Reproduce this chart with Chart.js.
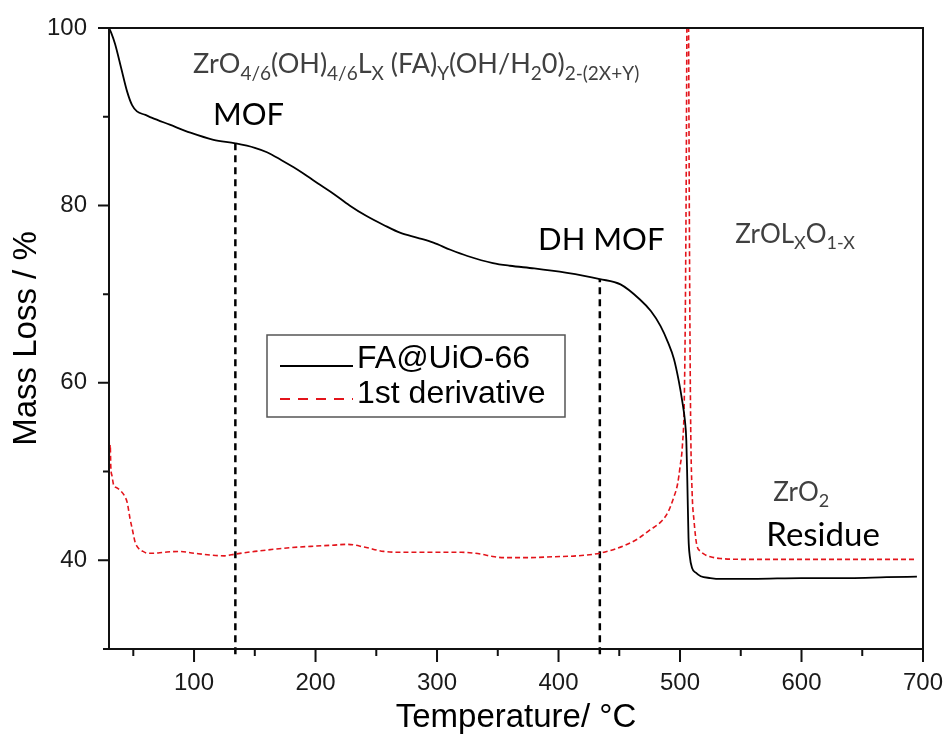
<!DOCTYPE html>
<html>
<head>
<meta charset="utf-8">
<script src="https://cdn.jsdelivr.net/npm/chart.js@4.4.0/dist/chart.umd.min.js"></script>
<style>
html, body { margin: 0; padding: 0; background: #fff; }
#wrap { width: 947px; height: 751px; position: relative; }
</style>
</head>
<body>
<div id="wrap"><canvas id="tga" width="947" height="751"></canvas></div>
<script>
// TGA of FA@UiO-66 : mass (%) vs temperature (C)
var tgaTemp = [30, 32, 35, 40, 45, 49, 53, 60, 65, 80, 97, 116, 134, 150, 160, 172, 182, 190, 204, 215, 228, 242, 256, 270, 284, 297, 311, 325, 346, 360, 380, 407, 420, 434, 451, 467, 476, 484, 490, 495, 499, 502, 504, 505.2, 506, 507, 508, 510, 513, 517, 525, 533, 560, 600, 640, 670, 695];
var tgaMass = [100, 99.4, 98.2, 95.5, 92.8, 91.3, 90.6, 90.2, 89.9, 89.1, 88.2, 87.4, 87.0, 86.5, 86.0, 85.1, 84.3, 83.6, 82.3, 81.3, 80.0, 78.8, 77.8, 76.9, 76.35, 75.8, 75.0, 74.3, 73.5, 73.2, 72.9, 72.4, 72.1, 71.7, 71.1, 69.4, 68.1, 66.4, 64.6, 62.7, 60.2, 57.8, 55.8, 53.5, 49.0, 42.5, 40.5, 39.1, 38.6, 38.2, 38.0, 37.9, 37.9, 38.0, 38.0, 38.1, 38.15];

// 1st derivative, plotted on the same axis
var dtgTemp = [30, 30.5, 31, 31.5, 32.5, 34, 36, 39, 43, 45, 47.3, 49.5, 51.4, 54, 58, 62, 66.5, 75, 88, 100, 113, 125, 134, 150, 170, 187, 200, 214, 226, 240, 256, 275, 297, 320, 336, 345, 355, 375, 396, 415, 434, 445, 455, 465, 475, 484, 490, 494.6, 498, 500, 502, 503.5, 504.5, 505.5, 506.3, 507.2, 508, 508.8, 510, 511.5, 513.7, 517, 521, 525, 533, 560, 600, 640, 670, 694];
var dtgMass = [54.3, 52, 53, 50.5, 49.5, 48.4, 48.2, 47.9, 47.2, 46.5, 44.7, 43.3, 42.1, 41.4, 41.0, 40.8, 40.8, 40.9, 41.0, 40.8, 40.6, 40.5, 40.7, 41.0, 41.3, 41.5, 41.6, 41.7, 41.8, 41.5, 41.0, 40.9, 40.9, 40.9, 40.7, 40.45, 40.3, 40.3, 40.4, 40.5, 40.8, 41.2, 41.7, 42.4, 43.4, 44.3, 45.4, 47, 48.6, 50.5, 53, 58, 70, 95, 130, 95, 70, 55, 47.5, 44.5, 41.8, 41.0, 40.6, 40.4, 40.2, 40.1, 40.1, 40.1, 40.1, 40.1];

// dashed markers for MOF and DH MOF
var markTemp = [134, 434];
var markMass = [87.0, 71.7];

var xTicks = [100, 200, 300, 400, 500, 600, 700];
var xMinor = [50, 150, 250, 350, 450, 550, 650];
var yTicks = [40, 60, 80, 100];
var yMinor = [30, 50, 70, 90];

var seriesNames = ["FA@UiO-66", "1st derivative"];

var tickFont = "'Liberation Sans', Arial, sans-serif";
var noteFont = "Lato, 'Open Sans', sans-serif";

function pts(xs, ys) {
    return xs.map(function(x, i){ return {x: x, y: ys[i]}; });
}

// text notes, anchored in data coordinates
var notes = [
    {at: [99.2, 94.9], size: 27, color: "#404040",
     runs: [["ZrO"], ["4/6", 1], ["(OH)"], ["4/6", 1], ["L"], ["X", 1], [" (FA)"], ["Y", 1], ["(OH/H"], ["2", 1], ["0)"], ["2-(2X+Y)", 1]]},
    {at: [115.6, 89.1], size: 31, color: "#000", runs: [["MOF"]]},
    {at: [383.2, 75.0], size: 31, color: "#000", runs: [["DH MOF"]]},
    {at: [545.4, 75.8], size: 26, color: "#404040", runs: [["ZrOL"], ["X", 1], ["O"], ["1-X", 1]]},
    {at: [576.7, 46.7], size: 26, color: "#404040", runs: [["ZrO"], ["2", 1]]},
    {at: [571, 41.6], size: 33, color: "#000", runs: [["Residue"]]}
];

function drawRuns(ctx, x0, y0, runs, size, color) {
    let x = x0;
    ctx.fillStyle = color;
    ctx.textBaseline = "alphabetic";
    ctx.textAlign = "left";
    runs.forEach(function(r){
        let sub = r[1] === 1;
        ctx.font = (sub ? Math.round(size * 0.7) : size) + "px " + noteFont;
        ctx.fillText(r[0], x, sub ? y0 + size * 0.24 : y0);
        x += ctx.measureText(r[0]).width;
    });
}

var decor = {
    id: "decor",
    afterDatasetsDraw: function(chart){
        let ctx = chart.ctx, a = chart.chartArea;
        let xs = chart.scales.x, ys = chart.scales.y;
        ctx.save();
        ctx.strokeStyle = "#111";
        ctx.lineWidth = 2;
        ctx.setLineDash([]);
        ctx.strokeRect(a.left, a.top, a.right - a.left, a.bottom - a.top);
        ctx.beginPath();
        xTicks.forEach(function(v){ let p = xs.getPixelForValue(v); ctx.moveTo(p, a.bottom); ctx.lineTo(p, a.bottom + 13); });
        xMinor.forEach(function(v){ let p = xs.getPixelForValue(v); ctx.moveTo(p, a.bottom); ctx.lineTo(p, a.bottom + 7); });
        yTicks.forEach(function(v){ let p = ys.getPixelForValue(v); ctx.moveTo(a.left, p); ctx.lineTo(a.left - 11, p); });
        yMinor.forEach(function(v){ let p = ys.getPixelForValue(v); ctx.moveTo(a.left, p); ctx.lineTo(a.left - 6, p); });
        ctx.stroke();
        ctx.restore();
    },
    afterDraw: function(chart){
        let ctx = chart.ctx, a = chart.chartArea;
        let xs = chart.scales.x, ys = chart.scales.y;
        ctx.save();
        notes.forEach(function(n){
            drawRuns(ctx, xs.getPixelForValue(n.at[0]), ys.getPixelForValue(n.at[1]), n.runs, n.size, n.color);
        });

        // legend box
        let lx = a.left + 158, ly = a.top + 307;
        ctx.setLineDash([]);
        ctx.lineWidth = 1.5;
        ctx.strokeStyle = "#555";
        ctx.strokeRect(lx, ly, 298, 82);
        let rows = [[31, 33], [64, 68]];
        seriesNames.forEach(function(name, i){
            let ds = chart.data.datasets[i];
            ctx.beginPath();
            ctx.strokeStyle = ds.borderColor;
            ctx.lineWidth = 2;
            ctx.setLineDash(i === 0 ? [] : [10, 8]);
            ctx.moveTo(lx + 13, ly + rows[i][0]);
            ctx.lineTo(lx + 86, ly + rows[i][0]);
            ctx.stroke();
            ctx.setLineDash([]);
            ctx.fillStyle = "#000";
            ctx.font = "32px " + tickFont;
            ctx.textBaseline = "alphabetic";
            ctx.textAlign = "left";
            ctx.fillText(name, lx + 90, ly + rows[i][1]);
        });
        ctx.restore();
    }
};

var datasets = [
    {label: seriesNames[0], data: pts(tgaTemp, tgaMass), borderColor: "#000", borderWidth: 1.8,
     pointRadius: 0, cubicInterpolationMode: "monotone", fill: false},
    {label: seriesNames[1], data: pts(dtgTemp, dtgMass), borderColor: "#e3141b", borderWidth: 1.6,
     borderDash: [5, 3], pointRadius: 0, cubicInterpolationMode: "monotone", fill: false}
];
markTemp.forEach(function(t, i){
    datasets.push({label: "mark" + i, data: [{x: t, y: 29.4}, {x: t, y: markMass[i]}],
        borderColor: "#000", borderWidth: 2.5, borderDash: [7, 5], pointRadius: 0, clip: false, fill: false});
});

new Chart(document.getElementById("tga"), {
    type: "line",
    data: {datasets: datasets},
    options: {
        responsive: false,
        animation: false,
        devicePixelRatio: 1,
        layout: {padding: {top: 28, right: 24, left: 0, bottom: 0}},
        plugins: {legend: {display: false}, tooltip: {enabled: false}},
        scales: {
            x: {
                type: "linear", min: 30, max: 700,
                afterBuildTicks: function(s){ s.ticks = xTicks.map(function(v){ return {value: v}; }); },
                afterFit: function(s){ s.height = 102; s.paddingLeft = 0; s.paddingRight = 0; },
                grid: {display: false, drawTicks: false},
                border: {display: false},
                ticks: {font: {size: 24, family: tickFont}, color: "#1a1a1a", padding: 20, maxRotation: 0},
                title: {display: true, text: "Temperature/ \u00b0C", color: "#000",
                        font: {size: 33, family: tickFont}, padding: {top: 0, bottom: 13}}
            },
            y: {
                type: "linear", min: 30, max: 100,
                afterBuildTicks: function(s){ s.ticks = yTicks.map(function(v){ return {value: v}; }); },
                afterFit: function(s){ s.width = 109; s.paddingTop = 0; s.paddingBottom = 0; },
                grid: {display: false, drawTicks: false},
                border: {display: false},
                ticks: {font: {size: 24, family: tickFont}, color: "#1a1a1a", padding: 22},
                title: {display: true, text: "Mass Loss / %", color: "#000",
                        font: {size: 33, family: tickFont}, padding: {top: 7, bottom: 0}}
            }
        }
    },
    plugins: [decor]
});
</script>
</body>
</html>
